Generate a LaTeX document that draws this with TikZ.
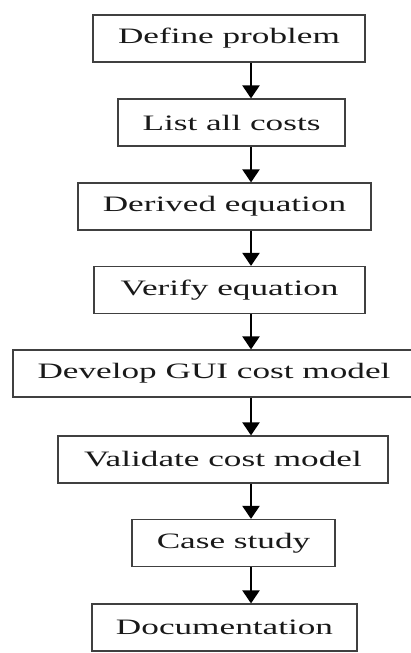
\documentclass[tikz,border=0pt]{standalone}
\usepackage{fontspec}
\setmainfont{Liberation Serif}
\usetikzlibrary{arrows.meta}

\newcommand{\widetext}[1]{\scalebox{1.6}[1]{#1}}

\tikzset{
    stage/.style={draw=black!75, line width=1.2pt, inner sep=0pt, minimum height=47pt,
        text=black!90, font=\fontsize{22}{26}\selectfont},
    flow/.style={-{Triangle[width=17pt,length=13pt]}, line width=2.2pt, black}
}

\begin{document}
\begin{tikzpicture}[x=1pt,y=-1pt]
    \useasboundingbox (0,0) rectangle (411,653);
    \fill[white] (0,0) rectangle (411,653);
    \coordinate (ax) at (251,0);
    \node (define) at (229,38.5) [stage,minimum width=272pt] {\widetext{Define problem}};
    \node (costs) at (231.5,122.5) [stage,minimum width=227pt] {\widetext{List all costs}};
    \node (derive) at (224.5,206.5) [stage,minimum width=293pt] {\widetext{Derived equation}};
    \node (verify) at (229.5,290) [stage,minimum width=271pt] {\widetext{Verify equation}};
    \node (gui) at (214,373.5) [stage,minimum width=402pt] {\widetext{Develop GUI cost model}};
    \node (valid) at (223,459.5) [stage,minimum width=330pt] {\widetext{Validate cost model}};
    \node (case) at (233.5,543) [stage,minimum width=203pt] {\widetext{Case study}};
    \node (docs) at (224.5,627.5) [stage,minimum width=265pt] {\widetext{Documentation}};
    \draw[flow] (define.south -| ax) -- (costs.north -| ax);
    \draw[flow] (costs.south -| ax) -- (derive.north -| ax);
    \draw[flow] (derive.south -| ax) -- (verify.north -| ax);
    \draw[flow] (verify.south -| ax) -- (gui.north -| ax);
    \draw[flow] (gui.south -| ax) -- (valid.north -| ax);
    \draw[flow] (valid.south -| ax) -- (case.north -| ax);
    \draw[flow] (case.south -| ax) -- (docs.north -| ax);
\end{tikzpicture}
\end{document}
